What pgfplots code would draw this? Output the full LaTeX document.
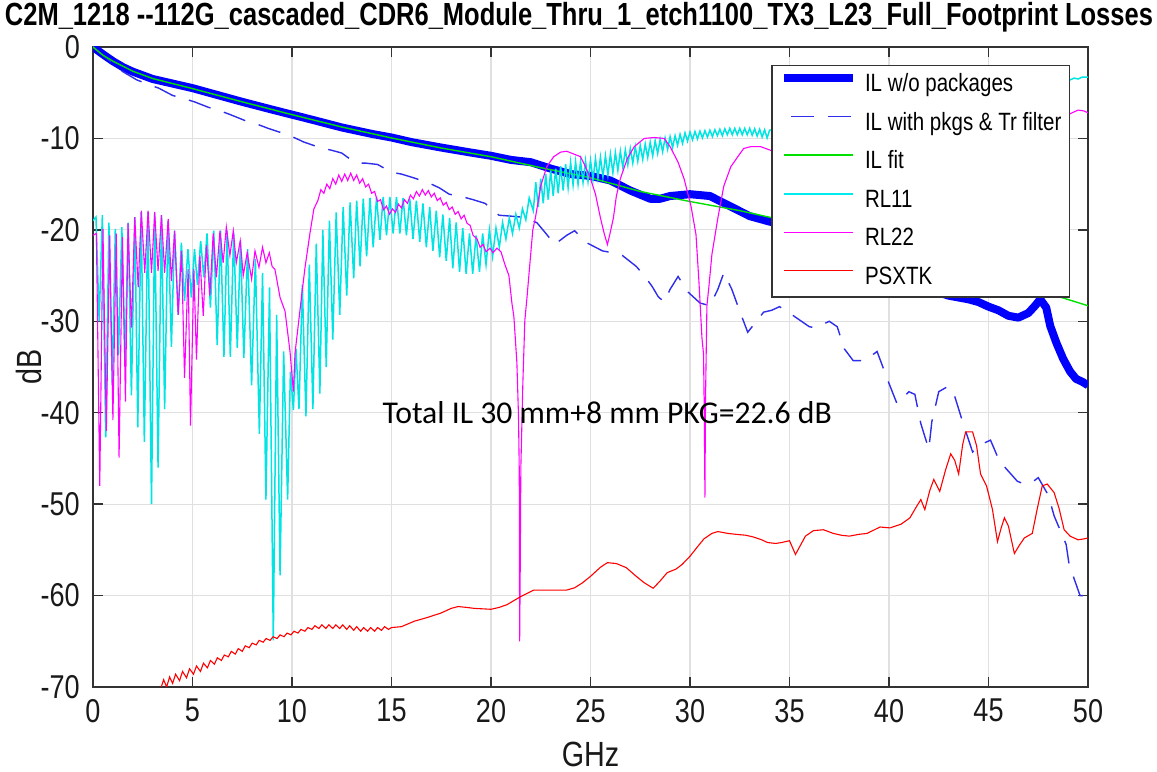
\documentclass[border=0pt]{standalone}
\usepackage{fontspec}
\usepackage{graphicx}
\usepackage{pgfplots}
\pgfplotsset{compat=1.18}
\newfontfamily\narrow{Liberation Sans}[FakeStretch=0.82]
\newfontfamily\titlefont{Liberation Sans}
\newfontfamily\carlito{Carlito}
\definecolor{ilblue}{RGB}{0,0,255}
\definecolor{dashblue}{RGB}{45,45,235}
\definecolor{ilgreen}{RGB}{0,225,0}
\definecolor{rlcyan}{RGB}{0,228,228}
\definecolor{rlmag}{RGB}{255,0,255}
\definecolor{xtred}{RGB}{255,0,0}
\begin{document}
\begin{tikzpicture}
\begin{axis}[
  name=ax, at={(0,0)}, anchor=south west,
  scale only axis, width=995pt, height=640pt,
  xmin=0, xmax=50, ymin=-70, ymax=0,
  xtick={0,5,...,50}, ytick={-70,-60,...,0},
  xticklabels={0,5,10,15,20,25,30,35,40,45,50},
  yticklabels={-70,-60,-50,-40,-30,-20,-10,0},
  grid=major, major grid style={black!12, line width=1.2pt},
  axis line style={black!80, line width=1.3pt},
  tick style={black!80, line width=1.3pt},
  tick align=inside, major tick length=10pt,
  tick label style={font=\narrow\fontsize{33}{40}\selectfont, text=black!90, inner sep=0pt},
  yticklabel style={xshift=-13pt},
  xticklabel style={yshift=-12pt},
  xlabel={GHz}, ylabel={dB},
  label style={font=\narrow\fontsize{35}{42}\selectfont, text=black!90},
  x label style={at={(axis description cs:0.5,-0.106)}, anchor=center},
  y label style={at={(axis description cs:-0.064,0.5)}, anchor=center, rotate=0},
  legend cell align=left,
  legend style={at={(1,1)}, anchor=north east, xshift=-18pt, yshift=-18pt,
    draw=black!80, line width=1.3pt, fill=white,
    font=\narrow\fontsize{25}{30}\selectfont,
    inner xsep=8pt, inner ysep=7pt, row sep=13.5pt,
    nodes={inner sep=0pt, text height=19pt, text depth=6pt},
    /tikz/every odd column/.append style={column sep=8pt}},
  legend image code/.code={\draw[#1] (0pt,7pt) -- (69pt,7pt);},
]
\addlegendimage{ilblue, line width=8pt}
\addlegendentry{IL w/o packages}
\addlegendimage{dashblue, line width=1.4pt, dash pattern=on 23pt off 14pt, dash phase=-7pt}
\addlegendentry{IL with pkgs \& Tr filter}
\addlegendimage{ilgreen, line width=1.4pt}
\addlegendentry{IL fit}
\addlegendimage{draw={rgb,255:red,0;green,235;blue,235}, line width=2.2pt}
\addlegendentry{RL11}
\addlegendimage{draw=rlmag, line width=1.1pt}
\addlegendentry{RL22}
\addlegendimage{draw=xtred, line width=1.1pt}
\addlegendentry{PSXTK}
% IL w/o packages
\addplot[forget plot, ilblue, line width=8pt, line join=round] coordinates {
(0,0) (0.25,-0.4) (0.5,-0.8) (1,-1.55) (1.5,-2.2) (2,-2.7) (3,-3.5) (4,-4.0) (5,-4.5)
(6,-5.1) (7.5,-6.0) (9,-6.85) (10,-7.4) (11,-7.95) (12.5,-8.8) (14,-9.5) (15,-9.9)
(16,-10.4) (17.5,-11.0) (19,-11.55) (20,-11.9) (21,-12.35) (22,-12.6) (23,-13.3)
(24,-13.9) (25,-14.1) (26,-14.6) (27,-15.7) (28,-16.6) (28.5,-16.6) (29,-16.3)
(30,-16.1) (31,-16.3) (32,-17.4) (33,-18.5) (34,-19.1) (35,-19.5) (36,-20.5)
(38,-22.5) (40,-24.5) (42,-26.5) (43,-27.2) (44,-27.6) (44.5,-27.9) (45,-28.4)
(45.5,-28.8) (46,-29.4) (46.5,-29.6) (47,-29.1) (47.3,-28.4) (47.6,-27.6) (47.9,-28.5)
(48.1,-30.5) (48.4,-32.3) (48.75,-34.1) (49.1,-35.5) (49.4,-36.3) (49.7,-36.6) (50,-37.0)
};
% IL with pkgs & Tr filter
\addplot[forget plot, dashblue, line width=1.4pt, dash pattern=on 23pt off 14pt] coordinates {
(0,0) (0.5,-0.9) (1,-1.8) (1.5,-2.7) (2.2,-3.6) (2.8,-4.1) (3.3,-4.5) (4,-5.3) (4.5,-5.6)
(5.1,-6.0) (5.8,-6.6) (6.3,-6.9) (6.9,-7.4) (7.7,-8.1) (8.2,-8.4) (8.8,-8.9) (9.5,-9.4)
(10,-9.8) (10.6,-10.4) (11.4,-11.0) (12,-11.3) (12.5,-11.6) (13.2,-12.7) (13.7,-12.7)
(14.3,-12.85) (15,-13.7) (15.5,-13.9) (16.1,-14.3) (16.9,-14.9) (17.4,-15.4) (17.9,-16.1)
(18.6,-16.4) (19.1,-16.7) (19.7,-17.1) (20.4,-18.4) (21,-18.5) (21.5,-18.6) (22.3,-19.2)
(22.8,-20.5) (23.2,-21.6) (23.8,-20.6) (24.2,-20.1) (24.8,-21.4) (25.6,-22.3) (26.1,-22.5)
(26.6,-22.8) (27.3,-24.0) (27.7,-25.0) (28.1,-26.2) (28.4,-27.3) (28.7,-27.9) (29,-26.5)
(29.4,-25.1) (29.9,-26.8) (30.5,-28.0) (31,-28.3) (31.4,-26.5) (31.7,-24.7) (32.1,-26.5)
(32.5,-28.9) (32.9,-31.2) (33.3,-30.1) (33.7,-29.0) (34.1,-28.8) (34.5,-28.4) (35,-29.1)
(35.6,-30.0) (36,-30.6) (36.3,-30.7) (37,-30.0) (37.4,-30.6) (37.75,-33) (38.2,-34.3)
(38.8,-34.3) (39.4,-33.3) (40,-36.8) (40.4,-39) (41,-37.7) (41.3,-38) (41.6,-41.2)
(42,-44) (42.15,-41) (42.5,-37.7) (42.9,-37.2) (43.2,-37.5) (43.7,-41) (44.2,-44.3)
(44.6,-43.5) (45.1,-43) (45.55,-45.3) (46,-46.4) (46.45,-47.5) (46.8,-47.8) (47.2,-47.6)
(47.5,-47.1) (48,-49) (48.3,-51.3) (48.9,-54.4) (49.05,-56.6) (49.6,-60) (50,-60)
};
% IL fit
\addplot[forget plot, ilgreen, line width=1.4pt] coordinates {
(0,0) (0.5,-0.9) (1,-1.55) (2,-2.65) (3,-3.45) (4,-4.0) (5,-4.55) (7.5,-6.0) (10,-7.4)
(12.5,-8.75) (15,-9.95) (17.5,-11.05) (20,-12.0) (22.5,-13.2) (25,-14.3) (27.5,-15.8)
(30,-16.9) (32.5,-17.9) (35,-19.1) (37.5,-20.5) (40,-22.0) (42.5,-23.5) (45,-25.0)
(47.5,-26.6) (50,-28.3)
};
% RL11
\addplot[forget plot, rlcyan, line width=1.5pt] coordinates {
(0.00,-19.0) (0.15,-18.6) (0.31,-30.0) (0.47,-18.4) (0.64,-42.7) (0.80,-19.2) (0.97,-37.0)
(1.12,-19.9) (1.28,-33.7) (1.45,-19.7) (1.61,-34.5) (1.77,-19.2) (1.93,-38.1) (2.10,-18.6)
(2.25,-41.6) (2.42,-18.05) (2.58,-43.2) (2.76,-18.0) (2.94,-50.0) (3.10,-18.2) (3.27,-46.0)
(3.44,-18.4) (3.60,-39.6) (3.77,-19.0) (3.94,-32.8) (4.10,-20.1) (4.28,-29.3) (4.44,-21.4)
(4.60,-27.8) (4.77,-22.1) (4.94,-27.4) (5.10,-22.1) (5.25,-26.0) (5.41,-21.2) (5.57,-25.2)
(5.73,-20.4) (5.90,-28.5) (6.07,-20.1) (6.24,-32.6) (6.41,-20.1) (6.58,-33.9) (6.74,-20.1)
(6.90,-33.9) (7.07,-20.3) (7.25,-32.9) (7.41,-21.2) (7.58,-34.0) (7.77,-22.1) (7.97,-37.0)
(8.16,-23.2) (8.36,-42.3) (8.52,-24.7) (8.69,-49.5) (8.87,-26.3) (9.06,-64.9) (9.23,-29.3)
(9.40,-57.8) (9.58,-33.3) (9.78,-49.5) (9.92,-35.5) (10.07,-39.7) (10.20,-33.0) (10.35,-39.6)
(10.52,-26.0) (10.70,-40.4) (10.87,-23.8) (11.05,-39.6) (11.22,-21.5) (11.40,-37.9)
(11.55,-20.0) (11.72,-35.0) (11.88,-19.0) (12.05,-32.0) (12.22,-18.1) (12.40,-29.3)
(12.57,-17.5) (12.75,-27.2) (12.92,-17.0) (13.10,-25.3) (13.25,-16.8) (13.42,-24.0)
(13.58,-16.6) (13.75,-22.9) (13.92,-16.5) (14.08,-21.9) (14.25,-16.4) (14.42,-21.1)
(14.58,-16.4) (14.75,-20.6) (14.92,-16.4) (15.08,-20.4) (15.25,-16.4) (15.42,-20.4)
(15.58,-16.5) (15.75,-20.6) (15.92,-16.6) (16.08,-21.0) (16.25,-16.8) (16.42,-21.3)
(16.58,-17.1) (16.75,-21.9) (16.92,-17.5) (17.08,-22.3) (17.25,-17.9) (17.42,-23.0)
(17.58,-18.3) (17.75,-23.4) (17.92,-18.7) (18.08,-24.2) (18.25,-19.2) (18.42,-24.6)
(18.58,-19.8) (18.75,-24.8) (18.92,-20.4) (19.08,-24.8) (19.25,-20.6) (19.42,-24.6)
(19.58,-20.4) (19.75,-23.8) (19.92,-20.0) (20.08,-22.9) (20.25,-19.8) (20.42,-21.9)
(20.58,-19.2) (20.75,-21.0) (20.92,-18.7) (21.08,-20.4) (21.25,-18.3) (21.42,-19.8)
(21.58,-17.7) (21.75,-18.9) (21.92,-16.5) (22.125,-17.9) (22.25,-14.8) (22.375,-17.5)
(22.5,-14.4) (22.625,-17.1) (22.75,-13.9) (22.875,-16.7) (23.0,-13.5) (23.125,-16.3)
(23.25,-13.3) (23.375,-16.0) (23.5,-13.05) (23.625,-15.7) (23.75,-12.8) (23.875,-15.4)
(24.0,-12.6) (24.125,-15.1) (24.25,-12.55) (24.375,-15.0) (24.5,-12.5) (24.625,-14.8)
(24.75,-12.45) (24.875,-14.7) (25.0,-12.4) (25.125,-14.5) (25.25,-12.2) (25.375,-14.35)
(25.5,-12.05) (25.625,-14.2) (25.75,-11.9) (25.875,-14.0) (26.0,-11.7) (26.125,-13.75)
(26.25,-11.55) (26.375,-13.5) (26.5,-11.4) (26.625,-13.2) (26.75,-11.25) (26.875,-12.9)
(27.0,-11.1) (27.125,-12.7) (27.25,-10.9) (27.375,-12.5) (27.5,-10.75) (27.625,-12.3)
(27.75,-10.6) (27.875,-12.1) (28.0,-10.4) (28.125,-11.9) (28.25,-10.25) (28.375,-11.65)
(28.5,-10.1) (28.625,-11.45) (28.75,-9.95) (28.875,-11.2) (29.0,-9.8) (29.125,-11.0)
(29.25,-9.7) (29.375,-10.75) (29.5,-9.55) (29.625,-10.55) (29.75,-9.4) (29.875,-10.3)
(30.0,-9.3) (30.125,-10.15) (30.25,-9.25) (30.375,-10.05) (30.5,-9.2) (30.625,-9.95)
(30.75,-9.15) (30.875,-9.85) (31.0,-9.1) (31.125,-9.8) (31.25,-9.05) (31.375,-9.7)
(31.5,-9.0) (31.625,-9.7) (31.75,-8.95) (31.875,-9.6) (32.0,-8.9) (32.125,-9.6)
(32.25,-8.9) (32.375,-9.6) (32.5,-8.9) (32.625,-9.6) (32.75,-8.9) (32.875,-9.6)
(33.0,-8.9) (33.125,-9.65) (33.25,-8.95) (33.375,-9.75) (33.5,-9.0) (33.625,-9.85)
(33.75,-9.05) (33.875,-9.95) (34.0,-9.1) (34.5,-9.0) (36,-8.3) (38,-7.3) (40,-6.3)
(42,-5.4) (44,-4.7) (46,-4.1) (48,-3.7) (48.8,-3.5) (49.1,-3.6) (49.3,-3.4) (49.5,-3.5)
(49.7,-3.3) (50,-3.3)
};
% RL22
\addplot[forget plot, rlmag, line width=1.1pt] coordinates {
(0,-20.6) (0.17,-20.4) (0.34,-48) (0.5,-19.9) (0.67,-42) (0.84,-20.6) (1.0,-40.8)
(1.17,-20.4) (1.31,-44.9) (1.48,-20.8) (1.63,-38.8) (1.76,-19.3) (1.93,-30.7) (2.1,-18.6)
(2.27,-26.3) (2.43,-17.9) (2.6,-24.7) (2.77,-17.9) (2.94,-24.7) (3.1,-18.05) (3.27,-24.5)
(3.44,-18.4) (3.6,-24.7) (3.78,-18.8) (3.94,-25.6) (4.1,-20.1) (4.28,-29.3) (4.45,-22.3)
(4.6,-36.2) (4.78,-24.3) (4.9,-41.4) (5.07,-24.3) (5.2,-34.2) (5.37,-22.8) (5.54,-29.4)
(5.7,-21.7) (5.87,-27.2) (6.04,-20.4) (6.2,-25.2) (6.38,-20.1) (6.54,-23.6) (6.7,-19.7)
(6.88,-22.8) (7.05,-20.1) (7.2,-23.6) (7.4,-21.2) (7.55,-25) (7.75,-22.5) (7.97,-25.4)
(8.14,-22.3) (8.34,-24.1) (8.52,-21.9) (8.69,-23.6) (8.86,-22.5) (9.0,-24.0) (9.14,-24.3)
(9.4,-27.4) (9.65,-28.9) (9.9,-33.3) (10.07,-37.7) (10.15,-33.5) (10.30,-30.7)
(10.50,-26.9) (10.65,-24.2) (10.90,-20.4) (11.10,-17.7) (11.30,-16.8) (11.45,-15.6)
(11.60,-16.0) (11.75,-15.0) (11.90,-15.5) (12.05,-14.4) (12.20,-15.0) (12.35,-14.0)
(12.50,-14.7) (12.65,-13.9) (12.80,-14.6) (12.95,-13.8) (13.10,-14.6) (13.25,-14.0)
(13.40,-14.9) (13.55,-14.4) (13.70,-15.3) (13.85,-15.0) (14.00,-16.0) (14.15,-15.8)
(14.30,-16.9) (14.45,-16.7) (14.60,-17.8) (14.75,-17.4) (14.90,-18.3) (15.05,-17.7)
(15.20,-18.1) (15.35,-17.2) (15.50,-17.6) (15.65,-16.7) (15.80,-17.1) (15.95,-16.2)
(16.10,-16.6) (16.25,-15.8) (16.40,-16.3) (16.55,-15.6) (16.70,-16.2) (16.85,-15.7)
(17.00,-16.4) (17.15,-16.0) (17.30,-16.8) (17.45,-16.5) (17.60,-17.3) (17.75,-17.0)
(17.90,-17.8) (18.05,-17.5) (18.20,-18.3) (18.35,-18.0) (18.50,-18.8) (18.65,-18.4)
(18.80,-19.3) (18.95,-19.5) (19.10,-20.6) (19.30,-21.0) (19.45,-21.9) (19.60,-21.6)
(19.75,-22.4) (19.95,-22.0) (20.10,-22.5) (20.30,-22.0) (20.50,-22.4) (20.70,-23.8)
(20.90,-25.0) (21.05,-28.0) (21.15,-29.5) (21.30,-34.5) (21.38,-40.2) (21.42,-46.3)
(21.44,-65.0) (21.47,-56.6) (21.50,-46.0) (21.60,-36.8) (21.70,-29.9) (21.80,-27.6)
(21.95,-23.8) (22.10,-20.0) (22.23,-18.7) (22.40,-16.5) (22.50,-15.2) (22.80,-13.1)
(23.15,-12.0) (23.50,-11.5) (23.80,-11.4) (24.15,-11.7) (24.50,-12.0) (24.75,-13.1)
(25.00,-14.4) (25.25,-16.1) (25.50,-18.7) (25.70,-20.5) (25.85,-21.6) (25.97,-20.5)
(26.15,-18.7) (26.30,-16.3) (26.50,-14.4) (26.85,-12.2) (27.20,-10.9) (27.70,-10.0)
(28.20,-9.9) (28.70,-10.0) (29.00,-10.9) (29.40,-12.6) (29.70,-14.4) (30.05,-17.4)
(30.30,-20.5) (30.45,-25.7) (30.60,-31.8) (30.68,-33.6) (30.72,-40.6) (30.75,-49.3)
(30.78,-38.4) (30.85,-28.3) (30.95,-26.2) (31.10,-22.7) (31.40,-18.7) (31.70,-15.2)
(32.05,-13.1) (32.40,-12.0) (32.70,-11.1) (33.05,-10.9) (33.55,-10.9) (34.05,-11.3)
(34.5,-11.6) (36,-11.5) (38,-10.5) (40,-9.5) (42,-8.8) (44,-8.3) (46,-8.0) (48,-7.8)
(48.8,-7.5) (49.1,-7.3) (49.5,-6.9) (49.8,-7.0) (50,-7.2)
};
% PSXTK
\addplot[forget plot, xtred, line width=1.1pt] coordinates {
(3.40,-70.2) (3.55,-69.2) (3.70,-70.0) (3.85,-68.9) (4.00,-69.6) (4.15,-68.6) (4.35,-69.3)
(4.50,-68.3) (4.70,-69.0) (4.85,-68.0) (5.05,-68.6) (5.20,-67.7) (5.40,-68.3) (5.55,-67.4)
(5.75,-67.9) (5.90,-67.1) (6.10,-67.5) (6.25,-66.8) (6.45,-67.1) (6.60,-66.5) (6.80,-66.7)
(6.95,-66.1) (7.15,-66.4) (7.30,-65.8) (7.50,-66.1) (7.65,-65.5) (7.85,-65.7) (8.00,-65.2)
(8.20,-65.4) (8.35,-64.9) (8.55,-65.1) (8.70,-64.7) (8.90,-64.9) (9.05,-64.5) (9.25,-64.7)
(9.40,-64.3) (9.60,-64.5) (9.75,-64.1) (9.95,-64.3) (10.10,-63.9) (10.30,-64.1)
(10.45,-63.7) (10.65,-63.9) (10.80,-63.5) (11.00,-63.7) (11.15,-63.3) (11.35,-63.6)
(11.50,-63.2) (11.70,-63.6) (11.85,-63.2) (12.05,-63.6) (12.20,-63.2) (12.40,-63.6)
(12.55,-63.2) (12.75,-63.7) (12.90,-63.3) (13.10,-63.8) (13.25,-63.4) (13.45,-63.9)
(13.60,-63.5) (13.80,-63.9) (13.95,-63.5) (14.15,-63.9) (14.30,-63.5) (14.50,-63.8)
(14.65,-63.4) (14.85,-63.7) (15.00,-63.5) (15.5,-63.4) (16.15,-62.8) (16.8,-62.4)
(17.5,-61.9) (18,-61.4) (18.35,-61.2) (18.8,-61.3) (19.15,-61.4) (20,-61.5) (20.4,-61.3)
(20.8,-61.0) (21.5,-60.1) (22.15,-59.4) (23,-59.4) (23.8,-59.4) (24.2,-59.15) (24.6,-58.6)
(25,-57.9) (25.5,-56.9) (25.85,-56.4) (26.3,-56.5) (26.8,-56.95) (27.3,-57.9) (27.7,-58.6)
(28.15,-59.2) (28.5,-58.4) (28.85,-57.5) (29.3,-57.1) (29.6,-56.6) (30,-55.7) (30.4,-54.6)
(30.7,-53.8) (31.1,-53.2) (31.4,-53.0) (31.9,-53.2) (32.3,-53.3) (32.8,-53.4) (33.2,-53.6)
(33.6,-53.9) (33.9,-54.2) (34.3,-54.3) (34.6,-54.2) (35,-54.0) (35.3,-55.5) (35.55,-54.5)
(35.8,-53.5) (36.2,-52.9) (36.7,-52.8) (37.2,-53.2) (37.6,-53.4) (38,-53.5) (38.5,-53.3)
(38.9,-53.2) (39.55,-52.5) (40.05,-52.6) (40.6,-52.2) (41.05,-51.5) (41.4,-50.2)
(41.6,-49.5) (41.8,-50.6) (42.05,-48.5) (42.25,-47.3) (42.55,-48.6) (42.85,-46.2)
(43.1,-44.5) (43.3,-45.2) (43.5,-46.7) (43.7,-43.5) (43.85,-42.1) (44.2,-42.1) (44.4,-43.6)
(44.6,-46.7) (44.9,-48) (45.2,-50.6) (45.45,-54.1) (45.65,-52.5) (45.8,-51.5) (46.0,-52.4)
(46.3,-55.4) (46.55,-54.5) (46.8,-53.7) (47.2,-53.2) (47.45,-50.5) (47.7,-48.0)
(47.95,-47.8) (48.3,-48.75) (48.55,-50.5) (48.8,-52.8) (49.1,-53.5) (49.5,-53.9)
(49.8,-53.8) (50,-53.7)
};
\node[font=\carlito\fontsize{31.7}{38}\selectfont, text=black, inner sep=0pt] at (axis cs:25.84,-40) {Total IL 30 mm+8 mm PKG=22.6 dB};
\end{axis}
\node[anchor=base, inner sep=0pt, text=black] at ([xshift=-11.5pt,yshift=21pt]ax.north)
  {\resizebox{1148pt}{\height}{\titlefont\bfseries\fontsize{32}{38}\selectfont C2M\_1218 --112G\_cascaded\_CDR6\_Module\_Thru\_1\_etch1100\_TX3\_L23\_Full\_Footprint Losses}};
\pgfresetboundingbox
\path[use as bounding box] ([xshift=-93pt,yshift=-85pt]ax.south west) rectangle ([xshift=69pt,yshift=47pt]ax.north east);
\end{tikzpicture}
\end{document}
